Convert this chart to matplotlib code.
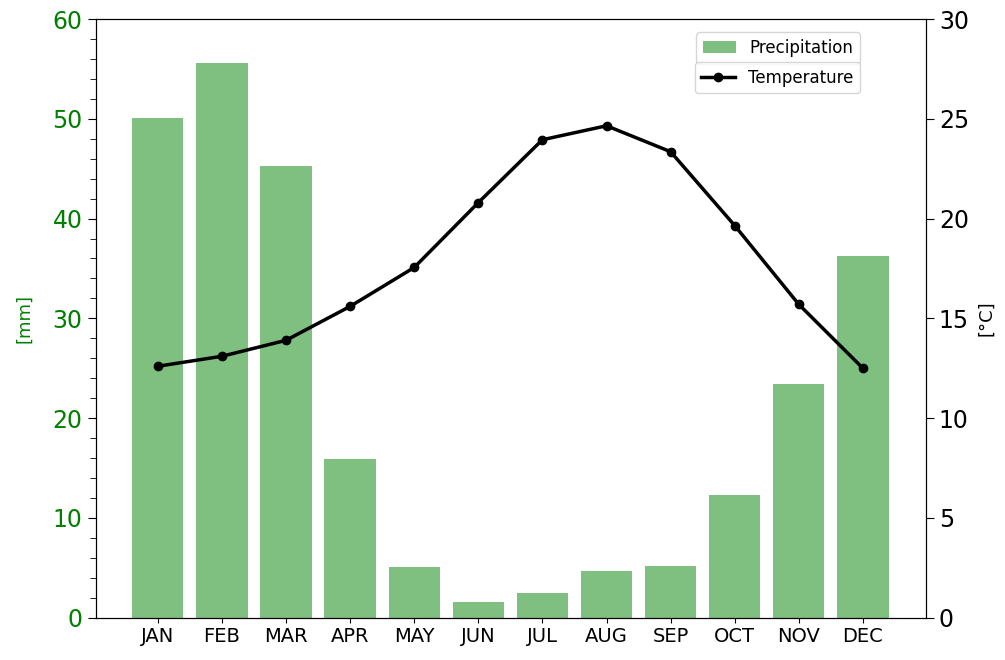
import matplotlib.pyplot as plt
from matplotlib.ticker import MultipleLocator

# Monthly climate values
months = ["JAN", "FEB", "MAR", "APR", "MAY", "JUN",
          "JUL", "AUG", "SEP", "OCT", "NOV", "DEC"]
precip_mm = [50.1, 55.6, 45.3, 15.9, 5.05, 1.55, 2.5, 4.7, 5.15, 12.3, 23.4, 36.2]
temp_c = [12.6, 13.1, 13.9, 15.6, 17.55, 20.8, 23.95, 24.65, 23.35, 19.65, 15.7, 12.5]

fig = plt.figure(figsize=(10.05, 6.6), dpi=100)
ax1 = fig.add_axes([0.0952, 0.0641, 0.8259, 0.9071])
ax2 = ax1.twinx()

x = list(range(len(months)))

# Precipitation bars on the left axis
ax1.bar(x, precip_mm, width=0.8, color="green", alpha=0.5, label="Precipitation")
ax1.set_ylim(0, 60)
ax1.set_xlim(-0.97, 11.98)
ax1.set_xticks(x)
ax1.set_xticklabels(months, fontsize=14)
ax1.yaxis.set_major_locator(MultipleLocator(10))
ax1.yaxis.set_minor_locator(MultipleLocator(2))
ax1.tick_params(axis="y", which="major", labelsize=17, labelcolor="green", length=6)
ax1.tick_params(axis="y", which="minor", length=4)
ax1.set_ylabel("[mm]", color="green", fontsize=13, labelpad=14)

# Temperature line on the right axis
ax2.plot(x, temp_c, color="black", linewidth=2.5, marker="o", markersize=6,
         label="Temperature")
ax2.set_ylim(0, 30)
ax2.yaxis.set_major_locator(MultipleLocator(5))
ax2.tick_params(axis="y", labelsize=17, length=6)
ax2.set_ylabel("[°C]", fontsize=13, labelpad=6)

ax1.legend(loc="upper right", bbox_to_anchor=(0.921, 0.978),
           borderaxespad=0, fontsize=12)
ax2.legend(loc="upper right", bbox_to_anchor=(0.921, 0.928),
           borderaxespad=0, fontsize=12)

fig.savefig("out.png", dpi=100)
